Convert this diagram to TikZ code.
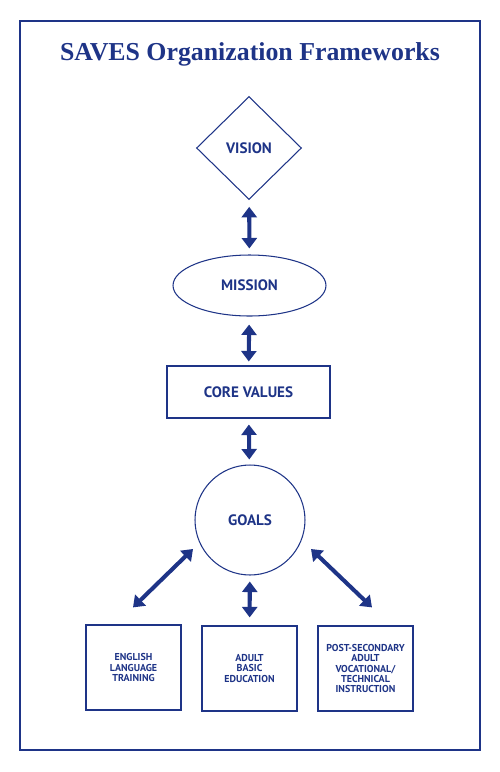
\documentclass[tikz,border=0pt]{standalone}
\usepackage{fontspec}
\setmainfont{Liberation Serif}
\newfontfamily\lblfont{PT Sans}
\usetikzlibrary{shapes,shapes.geometric}
\usetikzlibrary{positioning,arrows.meta}
\definecolor{savesblue}{RGB}{30,52,135}

\begin{document}
\begin{tikzpicture}[x=0.02cm,y=-0.02cm,
  stage/.style={draw=savesblue,line width=0.6pt,text=savesblue,inner sep=0pt,
    font=\lblfont\bfseries\fontsize{8.6}{9}\selectfont},
  prog/.style={draw=savesblue,line width=0.7pt,text=savesblue,inner sep=0pt,align=center,
    minimum width=1.9cm,minimum height=1.7cm,
    font=\lblfont\bfseries\fontsize{5.7}{5.9}\selectfont},
  link/.style={savesblue,line width=2.3pt,{Triangle[width=0.3cm,length=0.21cm]}-{Triangle[width=0.3cm,length=0.21cm]}}]
\useasboundingbox (0,0) rectangle (500,772);
\draw[savesblue,line width=1.2pt] (20,21) rectangle (480,750);
\draw(250,60) node[anchor=base,text=savesblue,font=\bfseries\fontsize{14.7}{17}\selectfont] (title) {SAVES Organization Frameworks};
\draw(249,148) node[stage,diamond,minimum width=2.1cm,minimum height=2.06cm] (vision) {VISION};
\draw(249.5,285.5) node[stage,ellipse,minimum width=3.06cm,minimum height=1.22cm] (mission) {MISSION};
\draw(248.5,392) node[stage,rectangle,minimum width=3.26cm,minimum height=1.04cm] (core) {CORE VALUES};
\draw(250,520) node[stage,circle,minimum size=2.2cm] (goals) {GOALS};
\draw(133.5,667.5) node[prog] (elt) {ENGLISH\\LANGUAGE\\TRAINING};
\draw(249.5,668.5) node[prog] (abe) {ADULT\\BASIC\\EDUCATION};
\draw(365.5,668.5) node[prog] (psa) {POST-SECONDARY\\ADULT\\VOCATIONAL/\\TECHNICAL\\INSTRUCTION};
\draw[link,shorten <=0.14cm,shorten >=0.12cm] (vision) -- (mission);
\draw[link,shorten <=0.16cm,shorten >=0.08cm] (mission) -- (core);
\draw[link,shorten <=0.12cm,shorten >=0.1cm] (core) -- (goals);
\draw[link,shorten <=0.12cm,shorten >=0.16cm] (goals) -- (abe);
\draw[link] ([shift={(-57,29)}]goals.center) -- ([shift={(-0.5,-17)}]elt.north);
\draw[link] ([shift={(61,29)}]goals.center) -- ([shift={(6.5,-18)}]psa.north);
\end{tikzpicture}
\end{document}
